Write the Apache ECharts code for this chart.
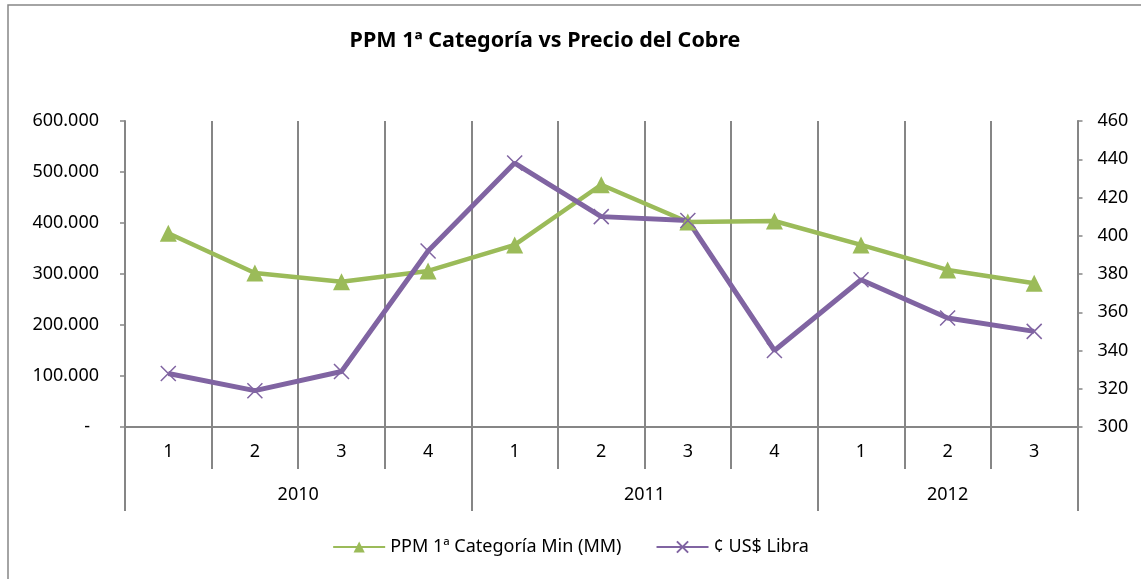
<html lang="es">
<head>
    <meta charset="UTF-8">
    <title>PPM 1ª Categoría vs Precio del Cobre</title>
    <script src="https://cdn.jsdelivr.net/npm/echarts@6.0.0/dist/echarts.min.js"></script>
</head>
<style>
    html, body { margin: 0; padding: 0; background: #fff; }
    #container { width: 1141px; height: 579px; }
</style>
<body>
<div id="container"></div>
<script>
    // datos
    var trimestres = ['1', '2', '3', '4', '1', '2', '3', '4', '1', '2', '3'];
    var anios = ['2010', '2011', '2012'];
    var trimestresPorAnio = [4, 4, 3];
    var ppm = [380000, 302000, 285000, 306000, 357000, 475000, 402000, 404000, 357000, 308000, 282000];
    var cobre = [328, 319, 329, 392, 438, 410, 408, 340, 377, 357, 350];

    var verde = '#9BBB59';
    var morado = '#8064A2';
    var gris = '#868686';
    var fuente = 'Noto Sans';
    var tam = 18;

    // limites y centros de cada año sobre el eje 0..n
    var limites = [0], centros = [];
    trimestresPorAnio.forEach(function (n, i) {
        var ini = limites[i];
        limites.push(ini + n);
        centros.push(ini + n / 2);
    });

    function miles(v) {
        if (v === 0) return '{g|-}';
        return String(v).replace(/\B(?=(\d{3})+(?!\d))/g, '.');
    }

    var chart = echarts.init(document.getElementById('container'));

    var option = {
        animation: false,
        textStyle: { fontFamily: fuente },
        title: {
            text: 'PPM 1ª Categoría vs Precio del Cobre',
            left: 540,
            top: 25,
            textAlign: 'center',
            textStyle: { fontFamily: fuente, fontSize: 21.5, fontWeight: 'bold', color: '#000' }
        },
        graphic: [{
            type: 'rect',
            shape: { x: 8, y: 5, width: 1140, height: 580 },
            style: { fill: 'none', stroke: gris, lineWidth: 1.5 },
            silent: true
        }],
        legend: {
            bottom: 18,
            left: 'center',
            itemWidth: 52,
            itemHeight: 14,
            itemGap: 34,
            textStyle: { fontFamily: fuente, fontSize: tam, color: '#000' },
            data: ['PPM 1ª Categoría Min (MM)', '¢ US$ Libra']
        },
        grid: { left: 125, right: 63.5, top: 121, bottom: 152 },
        xAxis: [
            {
                type: 'category',
                data: trimestres,
                boundaryGap: true,
                axisLine: { lineStyle: { color: gris, width: 2 } },
                axisTick: { show: true, interval: 0, length: 42, lineStyle: { color: gris, width: 2 } },
                axisLabel: { interval: 0, margin: 16, color: '#000', fontSize: tam, fontFamily: fuente },
                splitLine: { show: true, interval: 0, lineStyle: { color: gris, width: 2 } }
            },
            {
                type: 'value',
                min: 0,
                max: trimestres.length,
                position: 'bottom',
                axisLine: { show: false },
                splitLine: { show: false },
                axisTick: {
                    show: true,
                    customValues: limites,
                    length: 84,
                    lineStyle: { color: gris, width: 2 }
                },
                axisLabel: {
                    customValues: centros,
                    margin: 59,
                    color: '#000',
                    fontSize: tam,
                    fontFamily: fuente,
                    formatter: function (v) {
                        return anios[centros.indexOf(v)];
                    }
                }
            }
        ],
        yAxis: [
            {
                type: 'value',
                min: 0,
                max: 600000,
                interval: 100000,
                axisLine: { show: true, lineStyle: { color: gris, width: 2 } },
                axisTick: { show: true, length: 5, lineStyle: { color: gris, width: 1.5 } },
                splitLine: { show: false },
                axisLabel: {
                    margin: 26,
                    color: '#000',
                    fontSize: tam,
                    fontFamily: fuente,
                    formatter: miles,
                    rich: { g: { fontSize: tam, color: '#000', padding: [0, 9, 0, 0] } }
                }
            },
            {
                type: 'value',
                min: 300,
                max: 460,
                interval: 20,
                position: 'right',
                axisLine: { show: true, lineStyle: { color: gris, width: 2 } },
                axisTick: { show: true, length: 5, lineStyle: { color: gris, width: 1.5 } },
                splitLine: { show: false },
                axisLabel: { margin: 20, color: '#000', fontSize: tam, fontFamily: fuente }
            }
        ],
        series: [
            {
                name: 'PPM 1ª Categoría Min (MM)',
                type: 'line',
                xAxisIndex: 0,
                yAxisIndex: 0,
                data: ppm,
                symbol: 'triangle',
                symbolSize: 17,
                lineStyle: { color: verde, width: 4.5 },
                itemStyle: { color: verde }
            },
            {
                name: '¢ US$ Libra',
                type: 'line',
                xAxisIndex: 0,
                yAxisIndex: 1,
                data: cobre,
                symbol: 'path://M0,0L10,10M10,0L0,10',
                symbolSize: 15,
                lineStyle: { color: morado, width: 5 },
                itemStyle: { color: morado, borderColor: morado, borderWidth: 1.5 }
            }
        ]
    };

    chart.setOption(option);
</script>
</body>
</html>
